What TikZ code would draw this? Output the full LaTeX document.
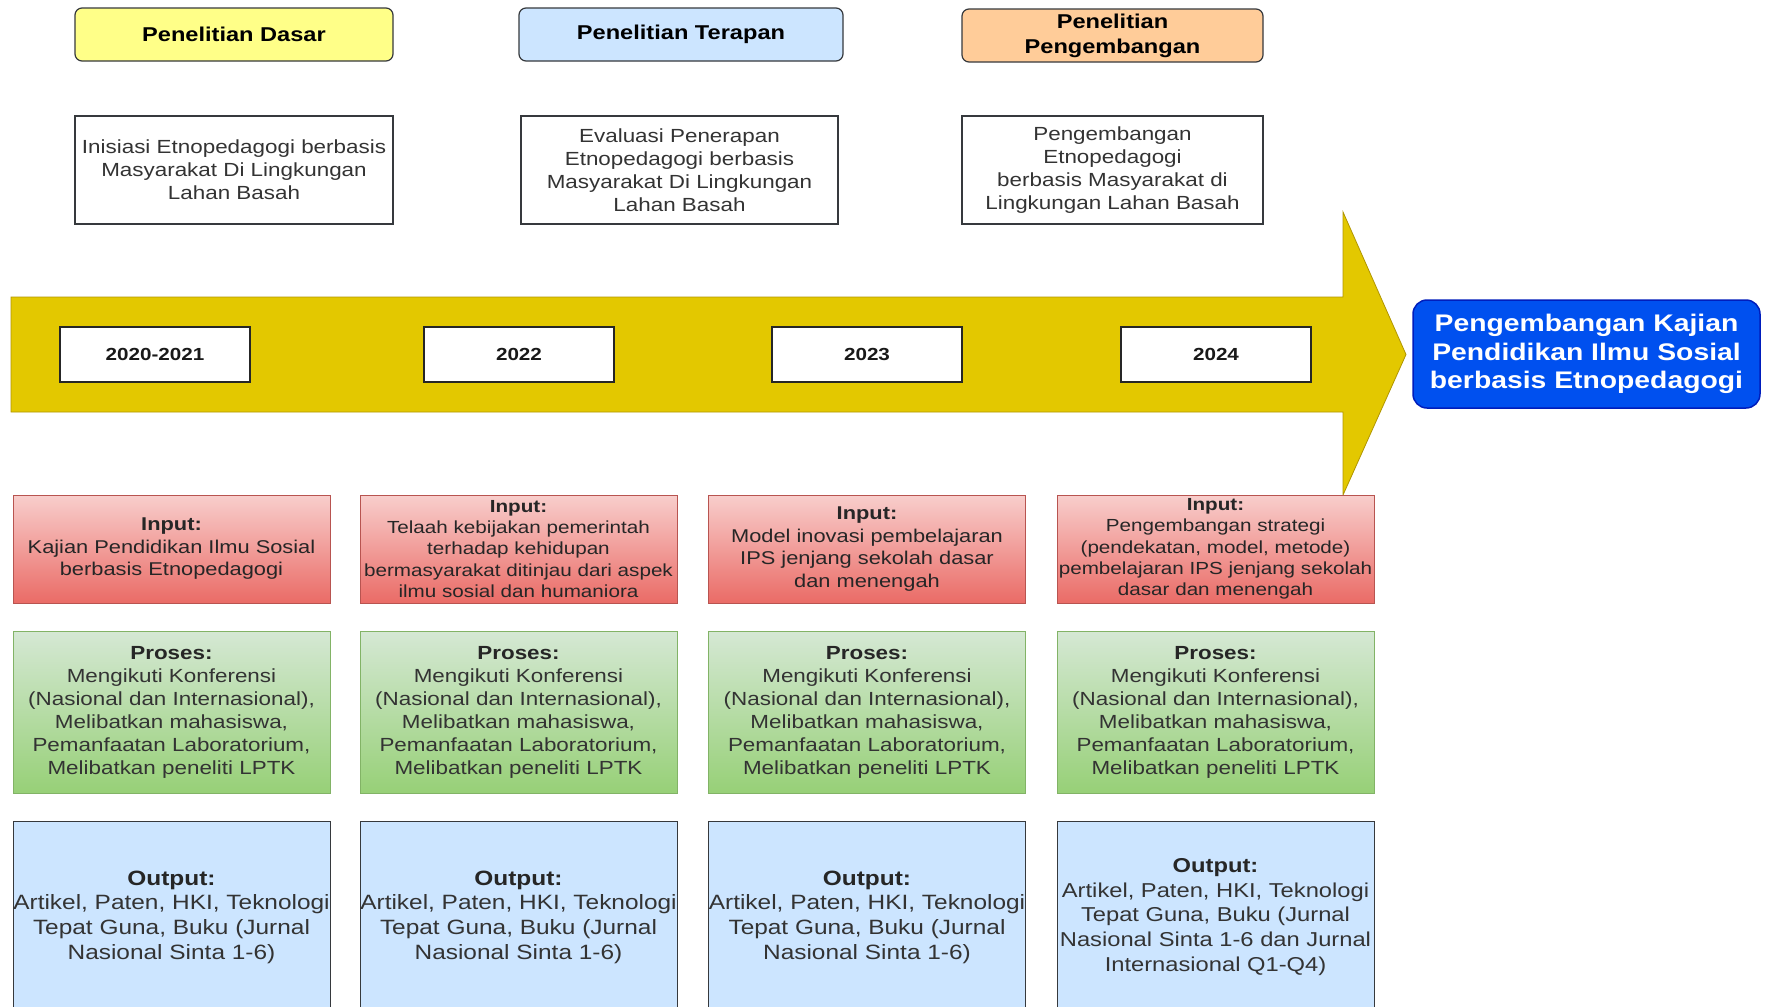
\documentclass[tikz,border=0pt]{standalone}
\usepackage{fontspec}
\setmainfont{Liberation Sans}[FakeStretch=1.18]
\definecolor{cArrow}{HTML}{E3C800}
\definecolor{cArrowS}{HTML}{B09500}
\definecolor{cY}{HTML}{FFFF88}
\definecolor{cLB}{HTML}{CCE5FF}
\definecolor{cO}{HTML}{FFCC99}
\definecolor{cStroke}{HTML}{36393D}
\definecolor{cInTop}{HTML}{F8CECC}
\definecolor{cInBot}{HTML}{EA6B66}
\definecolor{cInS}{HTML}{B85450}
\definecolor{cPrTop}{HTML}{D5E8D4}
\definecolor{cPrBot}{HTML}{97D077}
\definecolor{cPrS}{HTML}{82B366}
\definecolor{cBlue}{HTML}{0050EF}
\definecolor{cBlueS}{HTML}{001DBC}
\definecolor{cTxt}{HTML}{333333}
\tikzset{
  base/.style={inner sep=0pt, align=center, line width=1pt},
  hdr/.style={base, draw=cStroke, rounded corners=7pt, minimum height=53pt, line width=1.2pt,
    font=\bfseries\fontsize{20}{25}\selectfont, text=black},
  desc/.style={base, draw=cStroke, fill=white, minimum height=108pt, line width=1.2pt,
    font=\fontsize{19}{23}\selectfont, text=cTxt},
  yr/.style={base, draw=black!85, fill=white, minimum width=190pt, minimum height=55pt, line width=1.2pt,
    font=\bfseries\fontsize{17.5}{21}\selectfont, text=black!90},
  goal/.style={base, draw=cBlueS, fill=cBlue, rounded corners=14pt, minimum width=347pt, minimum height=108pt,
    line width=1.5pt, text=white, font=\bfseries\fontsize{24}{28.7}\selectfont},
  inp/.style={base, draw=cInS, top color=cInTop, bottom color=cInBot, minimum width=317pt, minimum height=108pt,
    text=black!85, font=\fontsize{18.5}{22.5}\selectfont},
  inpsm/.style={inp, font=\fontsize{17.5}{21.3}\selectfont},
  pro/.style={base, draw=cPrS, top color=cPrTop, bottom color=cPrBot, minimum width=317pt, minimum height=162pt,
    text=cTxt, font=\fontsize{19}{23}\selectfont},
  outb/.style={base, draw=cStroke, fill=cLB, minimum width=317pt, minimum height=192pt,
    text=cTxt, font=\fontsize{20.7}{24.7}\selectfont},
  outsm/.style={outb, font=\fontsize{20.1}{24.7}\selectfont},
}
\newcommand{\lbl}[1]{{\bfseries\color{black!85}#1}}
\begin{document}
\begin{tikzpicture}[x=1pt,y=-1pt]
\clip (0,0) rectangle (1765,1007);
\fill[white] (0,0) rectangle (1765,1007);

% big arrow
\filldraw[fill=cArrow, draw=cArrowS, line width=0.8pt]
  (11,297) -- (1343,297) -- (1343,212) -- (1406,354.5) -- (1343,495) -- (1343,412) -- (11,412) -- cycle;

% headers
\node[hdr, fill=cY, minimum width=318pt] (h1) at (234,34.5) {Penelitian Dasar};
\node[hdr, fill=cLB, minimum width=324pt] (h2) at (681,34.5) {Penelitian Terapan};
\node[hdr, fill=cO, minimum width=301pt] (h3) at (1112.5,35.5) {Penelitian\\Pengembangan};

% descriptions
\node[desc, minimum width=318pt] (d1) at (234,170) {Inisiasi Etnopedagogi berbasis\\Masyarakat Di Lingkungan\\Lahan Basah};
\node[desc, minimum width=317pt] (d2) at (679.5,170) {Evaluasi Penerapan\\Etnopedagogi berbasis\\Masyarakat Di Lingkungan\\Lahan Basah};
\node[desc, minimum width=301pt] (d3) at (1112.5,170) {Pengembangan\\Etnopedagogi\\berbasis Masyarakat di\\Lingkungan Lahan Basah};

% years
\node[yr] (y1) at (155,354.5) {2020-2021};
\node[yr] (y2) at (519,354.5) {2022};
\node[yr] (y3) at (867,354.5) {2023};
\node[yr] (y4) at (1216,354.5) {2024};

% goal
\node[goal] (g) at (1586.5,354) {Pengembangan Kajian\\Pendidikan Ilmu Sosial\\berbasis Etnopedagogi};

% inputs
\node[inp] (i1) at (171.5,549) {\lbl{Input:}\\Kajian Pendidikan Ilmu Sosial\\berbasis Etnopedagogi};
\node[inpsm] (i2) at (518.5,549) {\lbl{Input:}\\Telaah kebijakan pemerintah\\terhadap kehidupan\\bermasyarakat ditinjau dari aspek\\ilmu sosial dan humaniora};
\node[inp] (i3) at (867,549) {\lbl{Input:}\\Model inovasi pembelajaran\\IPS jenjang sekolah dasar\\dan menengah};
\node[inpsm] (i4) at (1215.5,549) {\lbl{Input:}\\Pengembangan strategi\\(pendekatan, model, metode)\\pembelajaran IPS jenjang sekolah\\dasar dan menengah};

% proses
\foreach \cx/\nm in {171.5/p1, 518.5/p2, 867/p3, 1215.5/p4}{
  \node[pro] (\nm) at (\cx,712) {\lbl{Proses:}\\Mengikuti Konferensi\\(Nasional dan Internasional),\\Melibatkan mahasiswa,\\Pemanfaatan Laboratorium,\\Melibatkan peneliti LPTK};
}

% outputs
\foreach \cx/\nm in {171.5/o1, 518.5/o2, 867/o3}{
  \node[outb] (\nm) at (\cx,917) {\lbl{Output:}\\Artikel, Paten, HKI, Teknologi\\Tepat Guna, Buku (Jurnal\\Nasional Sinta 1-6)};
}
\node[outsm] (o4) at (1215.5,917) {\lbl{Output:}\\Artikel, Paten, HKI, Teknologi\\Tepat Guna, Buku (Jurnal\\Nasional Sinta 1-6 dan Jurnal\\Internasional Q1-Q4)};
\end{tikzpicture}
\end{document}
